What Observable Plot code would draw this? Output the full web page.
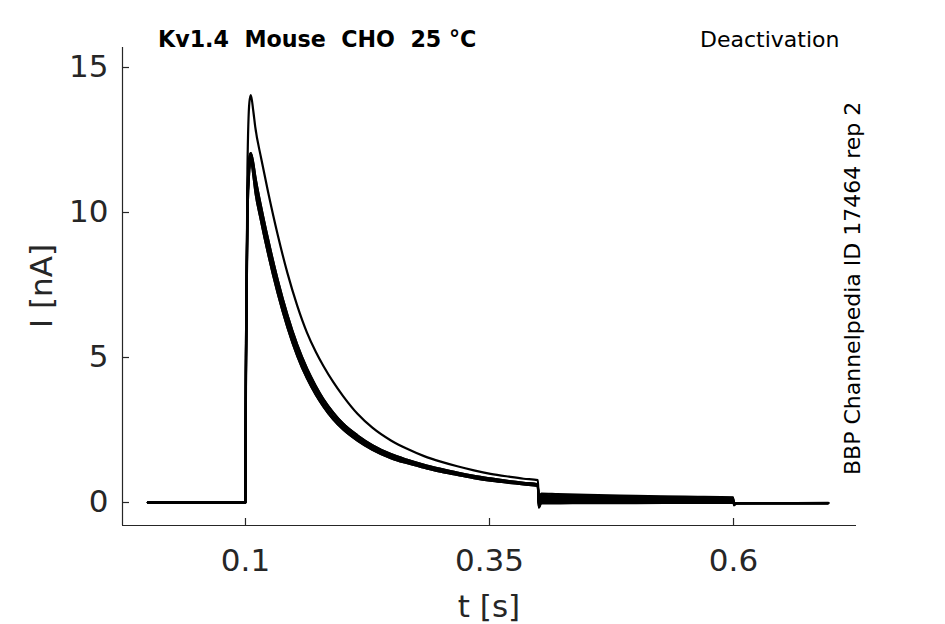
<!DOCTYPE html>
<html><head><meta charset="utf-8">
<script src="https://cdn.jsdelivr.net/npm/d3@7"></script>
<script src="https://cdn.jsdelivr.net/npm/@observablehq/plot@0.6"></script>
<style>
body{margin:0;background:#fff}
svg text{white-space:pre}
</style>
</head><body><div id="chart"></div>
<script>
// ---- data ----
const pulseTimes = [0, 0.0998, 0.1005, 0.102, 0.104, 0.1055, 0.108, 0.110, 0.116, 0.123, 0.133, 0.143, 0.153, 0.163, 0.172, 0.180, 0.190, 0.200, 0.215, 0.230, 0.249, 0.265, 0.283, 0.300, 0.317, 0.334, 0.351, 0.370, 0.385, 0.3995];
const firstSweepPulse = [0, 0, 4.0, 11.5, 13.8, 14.05, 13.5, 12.95, 11.88, 10.73, 9.23, 7.91, 6.79, 5.86, 5.2, 4.7, 4.15, 3.67, 3.05, 2.58, 2.14, 1.86, 1.6, 1.41, 1.25, 1.11, 0.99, 0.89, 0.82, 0.77];
const bundleUpperPulse = [0, 0, 5.5, 10.6, 11.9, 12.05, 11.7, 11.25, 10.2, 9.1, 7.68, 6.46, 5.44, 4.62, 4.02, 3.56, 3.1, 2.72, 2.31, 1.98, 1.67, 1.48, 1.3, 1.16, 1.03, 0.92, 0.83, 0.74, 0.68, 0.63];
const bundleMidPulse = [0, 0, 5.0, 10.2, 11.7, 12.0, 11.5, 11.0, 9.95, 8.85, 7.45, 6.25, 5.25, 4.45, 3.87, 3.43, 2.98, 2.62, 2.22, 1.9, 1.6, 1.42, 1.25, 1.11, 0.99, 0.88, 0.79, 0.71, 0.65, 0.60];
const bundleLowerPulse = [0, 0, 4.5, 9.8, 11.5, 11.85, 11.3, 10.75, 9.7, 8.6, 7.22, 6.04, 5.06, 4.28, 3.72, 3.3, 2.86, 2.52, 2.13, 1.82, 1.53, 1.36, 1.2, 1.06, 0.95, 0.84, 0.75, 0.68, 0.62, 0.57];

const tailTimes = [0.4005, 0.403, 0.42, 0.45, 0.50, 0.55, 0.5995];
const tailA = [0.18, 0.31, 0.29, 0.26, 0.23, 0.20, 0.18];
const tailB = [0.08, 0.26, 0.24, 0.22, 0.20, 0.18, 0.16];
const tailC = [0.00, 0.21, 0.20, 0.18, 0.16, 0.15, 0.13];
const tailD = [-0.06, 0.16, 0.15, 0.14, 0.13, 0.12, 0.11];
const tailE = [-0.10, 0.11, 0.10, 0.10, 0.09, 0.08, 0.08];
const tailF = [-0.14, 0.06, 0.06, 0.05, 0.05, 0.05, 0.05];
const tailG = [-0.17, 0.01, 0.01, 0.02, 0.02, 0.02, 0.02];
const tailH = [-0.18, -0.03, -0.03, -0.02, -0.02, -0.01, -0.01];

const offTimes = [0.6005, 0.603, 0.65, 0.697];
const offA = [-0.10, -0.03, -0.02, -0.02];
const offB = [-0.08, -0.02, -0.02, -0.02];
const offC = [-0.06, -0.02, -0.02, -0.02];
const offD = [-0.05, -0.02, -0.02, -0.01];
const offE = [-0.04, -0.02, -0.02, -0.02];
const offF = [-0.03, -0.02, -0.02, -0.02];
const offG = [-0.02, -0.02, -0.02, -0.02];
const offH = [-0.02, -0.02, -0.02, -0.02];

const sweepPulses = [firstSweepPulse, bundleUpperPulse, bundleMidPulse, bundleLowerPulse, bundleUpperPulse, bundleMidPulse, bundleLowerPulse, bundleMidPulse];
const sweepTails = [tailA, tailB, tailC, tailD, tailE, tailF, tailG, tailH];
const sweepOffs = [offA, offB, offC, offD, offE, offF, offG, offH];

const xTicks = [0.1, 0.35, 0.6];
const xTickLabels = ["0.1", "0.35", "0.6"];
const yTicks = [0, 5, 10, 15];
const yTickLabels = ["0", "5", "10", "15"];

const titleText = "Kv1.4  Mouse  CHO  25 °C";
const protocolText = "Deactivation";
const sideText = "BBP Channelpedia ID 17464 rep 2";
const xLabel = "t [s]";
const yLabel = "I [nA]";

// ---- build table ----
const rows = [];
sweepPulses.forEach((p, s) => {
  pulseTimes.forEach((t, i) => rows.push({sweep: s, t, I: p[i]}));
  tailTimes.forEach((t, i) => rows.push({sweep: s, t, I: sweepTails[s][i]}));
  offTimes.forEach((t, i) => rows.push({sweep: s, t, I: sweepOffs[s][i]}));
});

const W = 945, H = 624;
const mL = 122, mR = 89, mT = 47, mB = 99;
const frameW = W - mL - mR, frameH = H - mT - mB;
const xDomain = [-0.026, 0.726];
const yDomain = [-0.793, 15.69];
const axisColor = "#262626";
const font = "DejaVu Sans, Liberation Sans, sans-serif";

const plot = Plot.plot({
  width: W, height: H,
  marginLeft: mL, marginRight: mR, marginTop: mT, marginBottom: mB,
  style: {fontFamily: font, background: "#fff", color: axisColor},
  x: {domain: xDomain},
  y: {domain: yDomain},
  marks: [
    Plot.ruleX([xDomain[0]], {stroke: axisColor, strokeWidth: 1.2}),
    Plot.ruleY([yDomain[0]], {stroke: axisColor, strokeWidth: 1.2}),
    Plot.tickX(xTicks, {x: d => d, stroke: axisColor, strokeWidth: 1.2, insetTop: frameH - 7}),
    Plot.tickY(yTicks, {y: d => d, stroke: axisColor, strokeWidth: 1.2, insetRight: frameW - 7}),
    Plot.axisX({ticks: xTicks, tickFormat: (d, i) => xTickLabels[i], tickSize: 0, tickPadding: 23, fontSize: 31, label: null, fill: axisColor}),
    Plot.axisY({ticks: yTicks, tickFormat: (d, i) => yTickLabels[i], tickSize: 0, tickPadding: 14, fontSize: 31, label: null, fill: axisColor}),
    Plot.line(rows, {x: "t", y: "I", z: "sweep", curve: "monotone-x", stroke: "black", strokeWidth: 2.2, strokeLinejoin: "round"})
  ]
});

const svg = d3.select(plot);
svg.append("text").attr("x", 158).attr("y", 47).attr("text-anchor", "start").attr("font-family", font).attr("font-size", 22.2).attr("font-weight", "bold").attr("fill", "#000").text(titleText);
svg.append("text").attr("x", 700).attr("y", 47).attr("text-anchor", "start").attr("font-family", font).attr("font-size", 22).attr("fill", "#000").text(protocolText);
svg.append("text").attr("transform", "translate(860,475) rotate(-90)").attr("text-anchor", "start").attr("font-family", font).attr("font-size", 22).attr("fill", "#000").text(sideText);
svg.append("text").attr("x", mL + frameW / 2).attr("y", 617).attr("text-anchor", "middle").attr("font-family", font).attr("font-size", 31).attr("fill", axisColor).text(xLabel);
svg.append("text").attr("transform", `translate(52,${mT + frameH / 2}) rotate(-90)`).attr("text-anchor", "middle").attr("font-family", font).attr("font-size", 31).attr("fill", axisColor).text(yLabel);

document.getElementById("chart").appendChild(plot);
</script>
</body></html>
